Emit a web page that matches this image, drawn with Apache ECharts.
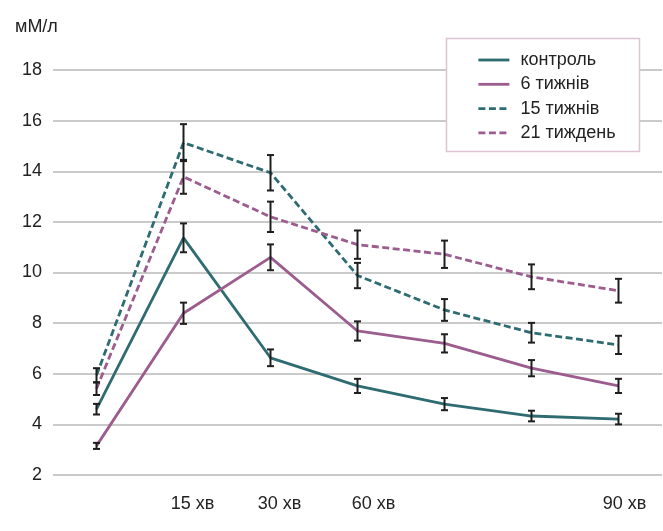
<!DOCTYPE html>
<html>
<head>
<meta charset="utf-8">
<script src="https://cdn.jsdelivr.net/npm/echarts@6/dist/echarts.min.js"></script>
<style>html,body{margin:0;padding:0;background:#fff;}#c{width:663px;height:531px;}</style>
</head>
<body>
<div id="c"></div>
<script>
var categories = ['', '15 хв', '30 хв', '60 хв', '', '', '90 хв'];
var yTicks = [2, 4, 6, 8, 10, 12, 14, 16, 18];
var seriesNames = ['контроль', '6 тижнів', '15 тижнів', '21 тиждень'];
var control = [4.6, 11.37, 6.63, 5.52, 4.8, 4.33, 4.21];
var controlErr = [0.21, 0.57, 0.33, 0.28, 0.24, 0.21, 0.21];
var week6 = [3.15, 8.39, 10.6, 7.69, 7.2, 6.22, 5.52];
var week6Err = [0.12, 0.42, 0.51, 0.38, 0.36, 0.32, 0.28];
var week15 = [5.94, 15.13, 13.94, 9.88, 8.52, 7.62, 7.14];
var week15Err = [0.28, 0.73, 0.7, 0.5, 0.43, 0.39, 0.36];
var week21 = [5.41, 13.78, 12.2, 11.1, 10.72, 9.83, 9.28];
var week21Err = [0.25, 0.67, 0.6, 0.56, 0.54, 0.49, 0.47];

var TEAL = '#2f6c71';
var PURPLE = '#9c5d8e';
var FONT = 'Liberation Sans, Arial, sans-serif';
var TEXT = '#222222';

function errData(vals, errs) {
  return vals.map(function (v, i) { return [i, v - errs[i], v + errs[i]]; });
}
function errSeries(vals, errs) {
  return {
    type: 'custom',
    z: 5,
    silent: true,
    data: errData(vals, errs),
    renderItem: function (params, api) {
      var x = api.value(0);
      var lo = api.coord([x, api.value(1)]);
      var hi = api.coord([x, api.value(2)]);
      var w = 3.5;
      var st = { stroke: '#1e1e1e', lineWidth: 2 };
      return {
        type: 'group',
        children: [
          { type: 'line', shape: { x1: lo[0], y1: lo[1], x2: hi[0], y2: hi[1] }, style: st },
          { type: 'line', shape: { x1: lo[0] - w, y1: lo[1], x2: lo[0] + w, y2: lo[1] }, style: st },
          { type: 'line', shape: { x1: hi[0] - w, y1: hi[1], x2: hi[0] + w, y2: hi[1] }, style: st }
        ]
      };
    }
  };
}
function lineSeries(name, vals, color, dashed) {
  return {
    name: name,
    type: 'line',
    data: vals,
    symbol: 'none',
    z: 3,
    itemStyle: { color: color },
    lineStyle: { color: color, width: 2.8, type: dashed ? [7, 3.5] : 'solid' }
  };
}

var labelStyles = { '15 хв': 's1', '30 хв': 's1', '60 хв': 's2', '90 хв': 's3' };

var chart = echarts.init(document.getElementById('c'));
chart.setOption({
  animation: false,
  backgroundColor: '#fff',
  textStyle: { fontFamily: FONT },
  grid: { left: 53, right: 1, top: 70, bottom: 56 },
  graphic: [
    { type: 'text', left: 15, top: 18, z: 10, style: { text: 'мМ/л', fontSize: 18, fontFamily: FONT, fill: TEXT } },
    { type: 'rect', z: 3, shape: { x: 446.5, y: 38.5, width: 193, height: 113 }, style: { fill: '#fff', stroke: '#dcc4d1', lineWidth: 1.5 } }
  ],
  legend: {
    orient: 'vertical',
    left: 477,
    top: 50,
    padding: 0,
    itemWidth: 31,
    itemHeight: 14,
    itemGap: 4.3,
    z: 10,
    data: seriesNames,
    itemStyle: { opacity: 0 },
    lineStyle: { width: 2.8 },
    textStyle: { fontSize: 18, lineHeight: 20, color: TEXT, fontFamily: FONT, padding: [0, 0, 0, 6] }
  },
  xAxis: {
    type: 'category',
    data: categories,
    boundaryGap: true,
    axisLine: { show: false },
    axisTick: { show: false },
    axisLabel: {
      interval: 0,
      margin: 20,
      fontSize: 18,
      color: TEXT,
      fontFamily: FONT,
      formatter: function (v) { return v ? '{' + labelStyles[v] + '|' + v + '}' : ''; },
      rich: {
        s1: { fontSize: 18, fontFamily: FONT, color: TEXT, padding: [0, 0, 0, 18] },
        s2: { fontSize: 18, fontFamily: FONT, color: TEXT, padding: [0, 0, 0, 32] },
        s3: { fontSize: 18, fontFamily: FONT, color: TEXT, padding: [0, 0, 0, 12] }
      }
    }
  },
  yAxis: {
    type: 'value',
    min: yTicks[0],
    max: yTicks[yTicks.length - 1],
    interval: 2,
    axisLine: { show: false },
    axisTick: { show: false },
    splitLine: { lineStyle: { color: '#b8b8b8', width: 1.5 } },
    axisLabel: { margin: 11, fontSize: 18, color: TEXT, fontFamily: FONT }
  },
  series: [
    lineSeries(seriesNames[0], control, TEAL, false),
    lineSeries(seriesNames[1], week6, PURPLE, false),
    lineSeries(seriesNames[2], week15, TEAL, true),
    lineSeries(seriesNames[3], week21, PURPLE, true),
    errSeries(control, controlErr),
    errSeries(week6, week6Err),
    errSeries(week15, week15Err),
    errSeries(week21, week21Err)
  ]
});
</script>
</body>
</html>
